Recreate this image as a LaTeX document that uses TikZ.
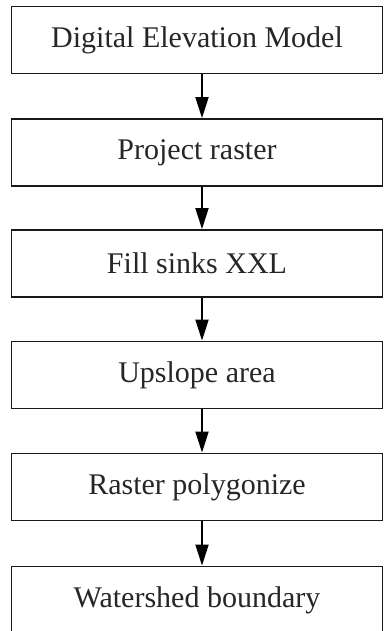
\documentclass[tikz,border=0pt]{standalone}
\usepackage{fontspec}
\setmainfont{Liberation Serif}
\usetikzlibrary{arrows.meta}
\tikzset{
  stepbox/.style={draw=black!90, line width=1.8pt, minimum width=371pt, minimum height=67pt, inner sep=0pt, font=\fontsize{30}{36}\selectfont, text=black!85},
  flowarrow/.style={line width=1.8pt, draw=black, -{Triangle[length=21pt,width=13pt]}}
}
\begin{document}
\begin{tikzpicture}[x=1pt,y=-1pt]
\useasboundingbox (0,0) rectangle (384,631);
\clip (0,0) rectangle (384,631);
\node[stepbox] (b1) at (197,40) {Digital Elevation Model};
\node[stepbox] (b2) at (197,152.5) {Project raster};
\node[stepbox] (b3) at (197,263.5) {Fill sinks XXL};
\node[stepbox] (b4) at (197,375) {Upslope area};
\node[stepbox] (b5) at (197,487) {Raster polygonize};
\node[stepbox] (b6) at (197,600) {Watershed boundary};
\foreach \a/\b in {b1/b2,b2/b3,b3/b4,b4/b5,b5/b6}
  \draw[flowarrow] ([xshift=5pt]\a.south) -- ([xshift=5pt]\b.north);
\end{tikzpicture}
\end{document}
